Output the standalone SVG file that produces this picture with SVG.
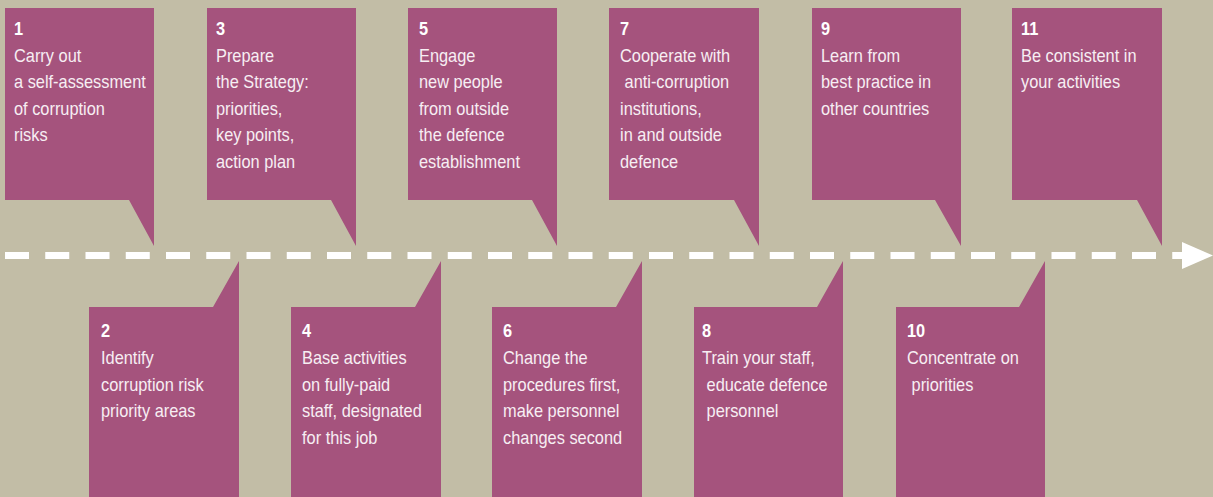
<svg xmlns="http://www.w3.org/2000/svg" width="1213" height="497" viewBox="0 0 1213 497">
<style>
.bg{fill:#c2bda6}
.box{fill:#a5537d}
.t{font-family:"Liberation Sans",Arial,sans-serif;font-size:18px;fill:#f7eef3}
.n{font-weight:bold;fill:#ffffff}
.dash{stroke:#ffffff;stroke-width:7;stroke-dasharray:24 16.25;fill:none}
</style>
<rect class="bg" x="0" y="0" width="1213" height="497"/>
<g id="connectors">
<line class="dash" x1="5" y1="255.5" x2="1186" y2="255.5"/>
<polygon points="1182,242 1213,255.5 1182,269" fill="#ffffff"/>
</g>
<g id="node1">
<path class="box" d="M5,8 H154 V246 L129,200 H5 Z"/>
<text class="t" transform="translate(14,0) scale(0.91,1)"><tspan class="n" x="0" y="35">1</tspan><tspan x="0" y="62">Carry out</tspan><tspan x="0" y="88.5">a self-assessment</tspan><tspan x="0" y="115">of corruption</tspan><tspan x="0" y="141.5">risks</tspan></text>
</g>
<g id="node3">
<path class="box" d="M207,8 H356 V246 L331,200 H207 Z"/>
<text class="t" transform="translate(216,0) scale(0.91,1)"><tspan class="n" x="0" y="35">3</tspan><tspan x="0" y="62">Prepare</tspan><tspan x="0" y="88.5">the Strategy:</tspan><tspan x="0" y="115">priorities,</tspan><tspan x="0" y="141.5">key points,</tspan><tspan x="0" y="168">action plan</tspan></text>
</g>
<g id="node5">
<path class="box" d="M408,8 H557 V246 L532,200 H408 Z"/>
<text class="t" transform="translate(419,0) scale(0.91,1)"><tspan class="n" x="0" y="35">5</tspan><tspan x="0" y="62">Engage</tspan><tspan x="0" y="88.5">new people</tspan><tspan x="0" y="115">from outside</tspan><tspan x="0" y="141.5">the defence</tspan><tspan x="0" y="168">establishment</tspan></text>
</g>
<g id="node7">
<path class="box" d="M609,8 H759 V246 L734,200 H609 Z"/>
<text class="t" transform="translate(620,0) scale(0.91,1)"><tspan class="n" x="0" y="35">7</tspan><tspan x="0" y="62">Cooperate with</tspan><tspan x="0" y="88.5">&#160;anti-corruption</tspan><tspan x="0" y="115">institutions,</tspan><tspan x="0" y="141.5">in and outside</tspan><tspan x="0" y="168">defence</tspan></text>
</g>
<g id="node9">
<path class="box" d="M812,8 H961 V246 L935,200 H812 Z"/>
<text class="t" transform="translate(821,0) scale(0.91,1)"><tspan class="n" x="0" y="35">9</tspan><tspan x="0" y="62">Learn from</tspan><tspan x="0" y="88.5">best practice in</tspan><tspan x="0" y="115">other countries</tspan></text>
</g>
<g id="node11">
<path class="box" d="M1012,8 H1162 V246 L1137,200 H1012 Z"/>
<text class="t" transform="translate(1021,0) scale(0.91,1)"><tspan class="n" x="0" y="35">11</tspan><tspan x="0" y="62">Be consistent in</tspan><tspan x="0" y="88.5">your activities</tspan></text>
</g>
<g id="node2">
<path class="box" d="M89,307 H213 L239,261 V497 H89 Z"/>
<text class="t" transform="translate(101,0) scale(0.91,1)"><tspan class="n" x="0" y="337">2</tspan><tspan x="0" y="364.5">Identify</tspan><tspan x="0" y="391">corruption risk</tspan><tspan x="0" y="417.5">priority areas</tspan></text>
</g>
<g id="node4">
<path class="box" d="M291,307 H415 L441,261 V497 H291 Z"/>
<text class="t" transform="translate(302,0) scale(0.91,1)"><tspan class="n" x="0" y="337">4</tspan><tspan x="0" y="364.5">Base activities</tspan><tspan x="0" y="391">on fully-paid</tspan><tspan x="0" y="417.5">staff, designated</tspan><tspan x="0" y="444">for this job</tspan></text>
</g>
<g id="node6">
<path class="box" d="M492,307 H616 L642,261 V497 H492 Z"/>
<text class="t" transform="translate(503,0) scale(0.91,1)"><tspan class="n" x="0" y="337">6</tspan><tspan x="0" y="364.5">Change the</tspan><tspan x="0" y="391">procedures first,</tspan><tspan x="0" y="417.5">make personnel</tspan><tspan x="0" y="444">changes second</tspan></text>
</g>
<g id="node8">
<path class="box" d="M694,307 H817 L843,261 V497 H694 Z"/>
<text class="t" transform="translate(702,0) scale(0.91,1)"><tspan class="n" x="0" y="337">8</tspan><tspan x="0" y="364.5">Train your staff,</tspan><tspan x="0" y="391">&#160;educate defence</tspan><tspan x="0" y="417.5">&#160;personnel</tspan></text>
</g>
<g id="node10">
<path class="box" d="M896,307 H1019 L1045,261 V497 H896 Z"/>
<text class="t" transform="translate(907,0) scale(0.91,1)"><tspan class="n" x="0" y="337">10</tspan><tspan x="0" y="364.5">Concentrate on</tspan><tspan x="0" y="391">&#160;priorities</tspan></text>
</g>
</svg>
